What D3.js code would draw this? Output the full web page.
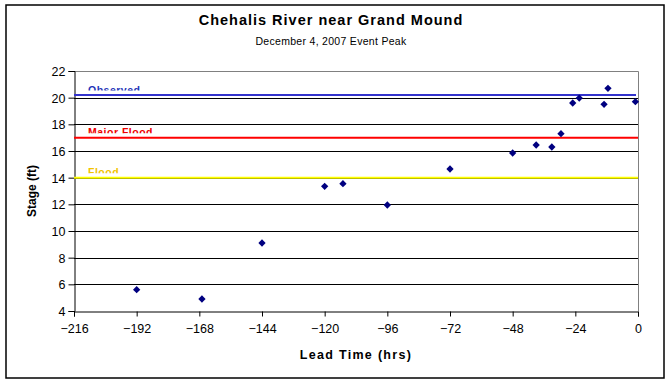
<!DOCTYPE html>
<html>
<head>
<meta charset="utf-8">
<script src="https://cdn.jsdelivr.net/npm/d3@7"></script>
<style>
body { margin: 0; background: #fff; }
text { font-family: "Liberation Sans", Arial, sans-serif; }
</style>
</head>
<body>
<div id="chart"></div>
<script>
/* -----------------------
data
------------------------- */

var leadTime = [-192, -167, -144, -120, -113, -96, -72, -48, -39, -33, -29.5, -25, -22.5, -13, -11.5, -1];
var stage    = [5.6, 4.9, 9.1, 13.35, 13.55, 11.95, 14.65, 15.85, 16.45, 16.3, 17.3, 19.6, 19.97, 19.5, 20.7, 19.7];

var refNames  = ["Observed", "Major Flood", "Flood"];
var refValues = [20.2, 17.0, 14.0];
var refColors = ["#3333cc", "#ff0000", "#ffff00"];
var refText   = ["#1f35b8", "#ee0000", "#f2c200"];

var xTicks = [-216, -192, -168, -144, -120, -96, -72, -48, -24, 0];
var yTicks = [4, 6, 8, 10, 12, 14, 16, 18, 20, 22];

/* -----------------------
main variables
------------------------- */

var width = 672, height = 384;
var plotL = 74, plotR = 638, plotT = 71, plotB = 311;

var svg = d3.select("#chart").append("svg")
	.attr("width", width)
	.attr("height", height);

var x = d3.scaleLinear().domain([-216, 0]).range([plotL, plotR]);
var y = d3.scaleLinear().domain([4, 22]).range([plotB, plotT]);

// outer frame
svg.append("rect")
	.attr("x", 6).attr("y", 5)
	.attr("width", 658).attr("height", 373)
	.attr("fill", "#fff")
	.attr("stroke", "#000")
	.attr("stroke-width", 1.5);

// titles
svg.append("text")
	.attr("x", 331).attr("y", 25)
	.attr("text-anchor", "middle")
	.attr("font-size", 14.5)
	.attr("font-weight", "bold")
	.attr("letter-spacing", 1)
	.text("Chehalis River near Grand Mound");

svg.append("text")
	.attr("x", 331).attr("y", 45)
	.attr("text-anchor", "middle")
	.attr("font-size", 10.5)
	.attr("letter-spacing", 0.3)
	.text("December 4, 2007 Event Peak");

/* -----------------------
grid + axes
------------------------- */

svg.append("g").selectAll("line")
	.data(yTicks.filter(function(d) { return d > 4 && d < 22; }))
	.enter().append("line")
	.attr("x1", plotL).attr("x2", plotR)
	.attr("y1", function(d) { return Math.round(y(d)) + 0.5; })
	.attr("y2", function(d) { return Math.round(y(d)) + 0.5; })
	.attr("stroke", "#000");

// plot border top + right (gray)
svg.append("path")
	.attr("d", "M" + plotL + "," + (plotT + 0.5) + "H" + (plotR + 0.5) + "V" + plotB)
	.attr("fill", "none")
	.attr("stroke", "#808080");

var xAxis = svg.append("g")
	.attr("transform", "translate(0," + (plotB + 0.5) + ")")
	.call(d3.axisBottom(x).tickValues(xTicks).tickSize(5).tickPadding(8).tickFormat(d3.format("d")));

var yAxis = svg.append("g")
	.attr("transform", "translate(" + (plotL + 0.5) + ",0)")
	.call(d3.axisLeft(y).tickValues(yTicks).tickSize(6).tickPadding(3).tickFormat(d3.format("d")));

[xAxis, yAxis].forEach(function(a) {
	a.select(".domain").attr("stroke", "#000");
	a.selectAll(".tick line").attr("stroke", "#000");
	a.selectAll(".tick text")
		.attr("font-family", "Liberation Sans, Arial, sans-serif")
		.attr("font-size", 12.5)
		.attr("fill", "#000");
});

yAxis.selectAll(".tick text").attr("dy", "0.35em");

svg.append("text")
	.attr("x", (plotL + plotR) / 2).attr("y", 359)
	.attr("text-anchor", "middle")
	.attr("font-size", 12.5)
	.attr("font-weight", "bold")
	.attr("letter-spacing", 1.3)
	.text("Lead Time (hrs)");

svg.append("text")
	.attr("transform", "translate(36," + ((plotT + plotB) / 2) + ") rotate(-90)")
	.attr("text-anchor", "middle")
	.attr("font-size", 12)
	.attr("font-weight", "bold")
	.text("Stage (ft)");

/* -----------------------
reference lines
------------------------- */

var defs = svg.append("defs");
refValues.forEach(function(v, i) {
	var ly = y(v);
	defs.append("clipPath").attr("id", "clip" + i)
		.append("rect")
		.attr("x", plotL).attr("y", ly - 11)
		.attr("width", 200).attr("height", 6.5);

	svg.append("text")
		.attr("clip-path", "url(#clip" + i + ")")
		.attr("x", 88).attr("y", ly - 1.5)
		.attr("font-size", 10.5)
		.attr("font-weight", "bold")
		.attr("letter-spacing", 0.5)
		.attr("fill", refText[i])
		.text(refNames[i]);

	svg.append("line")
		.attr("x1", plotL).attr("x2", i === 0 ? plotR - 2 : plotR)
		.attr("y1", ly).attr("y2", ly)
		.attr("stroke", refColors[i])
		.attr("stroke-width", 2);
});

/* -----------------------
points
------------------------- */

var diamond = d3.symbol().type(d3.symbolDiamond2).size(34);

svg.append("g").selectAll("path")
	.data(leadTime)
	.enter().append("path")
	.attr("d", diamond)
	.attr("transform", function(d, i) { return "translate(" + x(d) + "," + y(stage[i]) + ")"; })
	.attr("fill", "#000080");
</script>
</body>
</html>
